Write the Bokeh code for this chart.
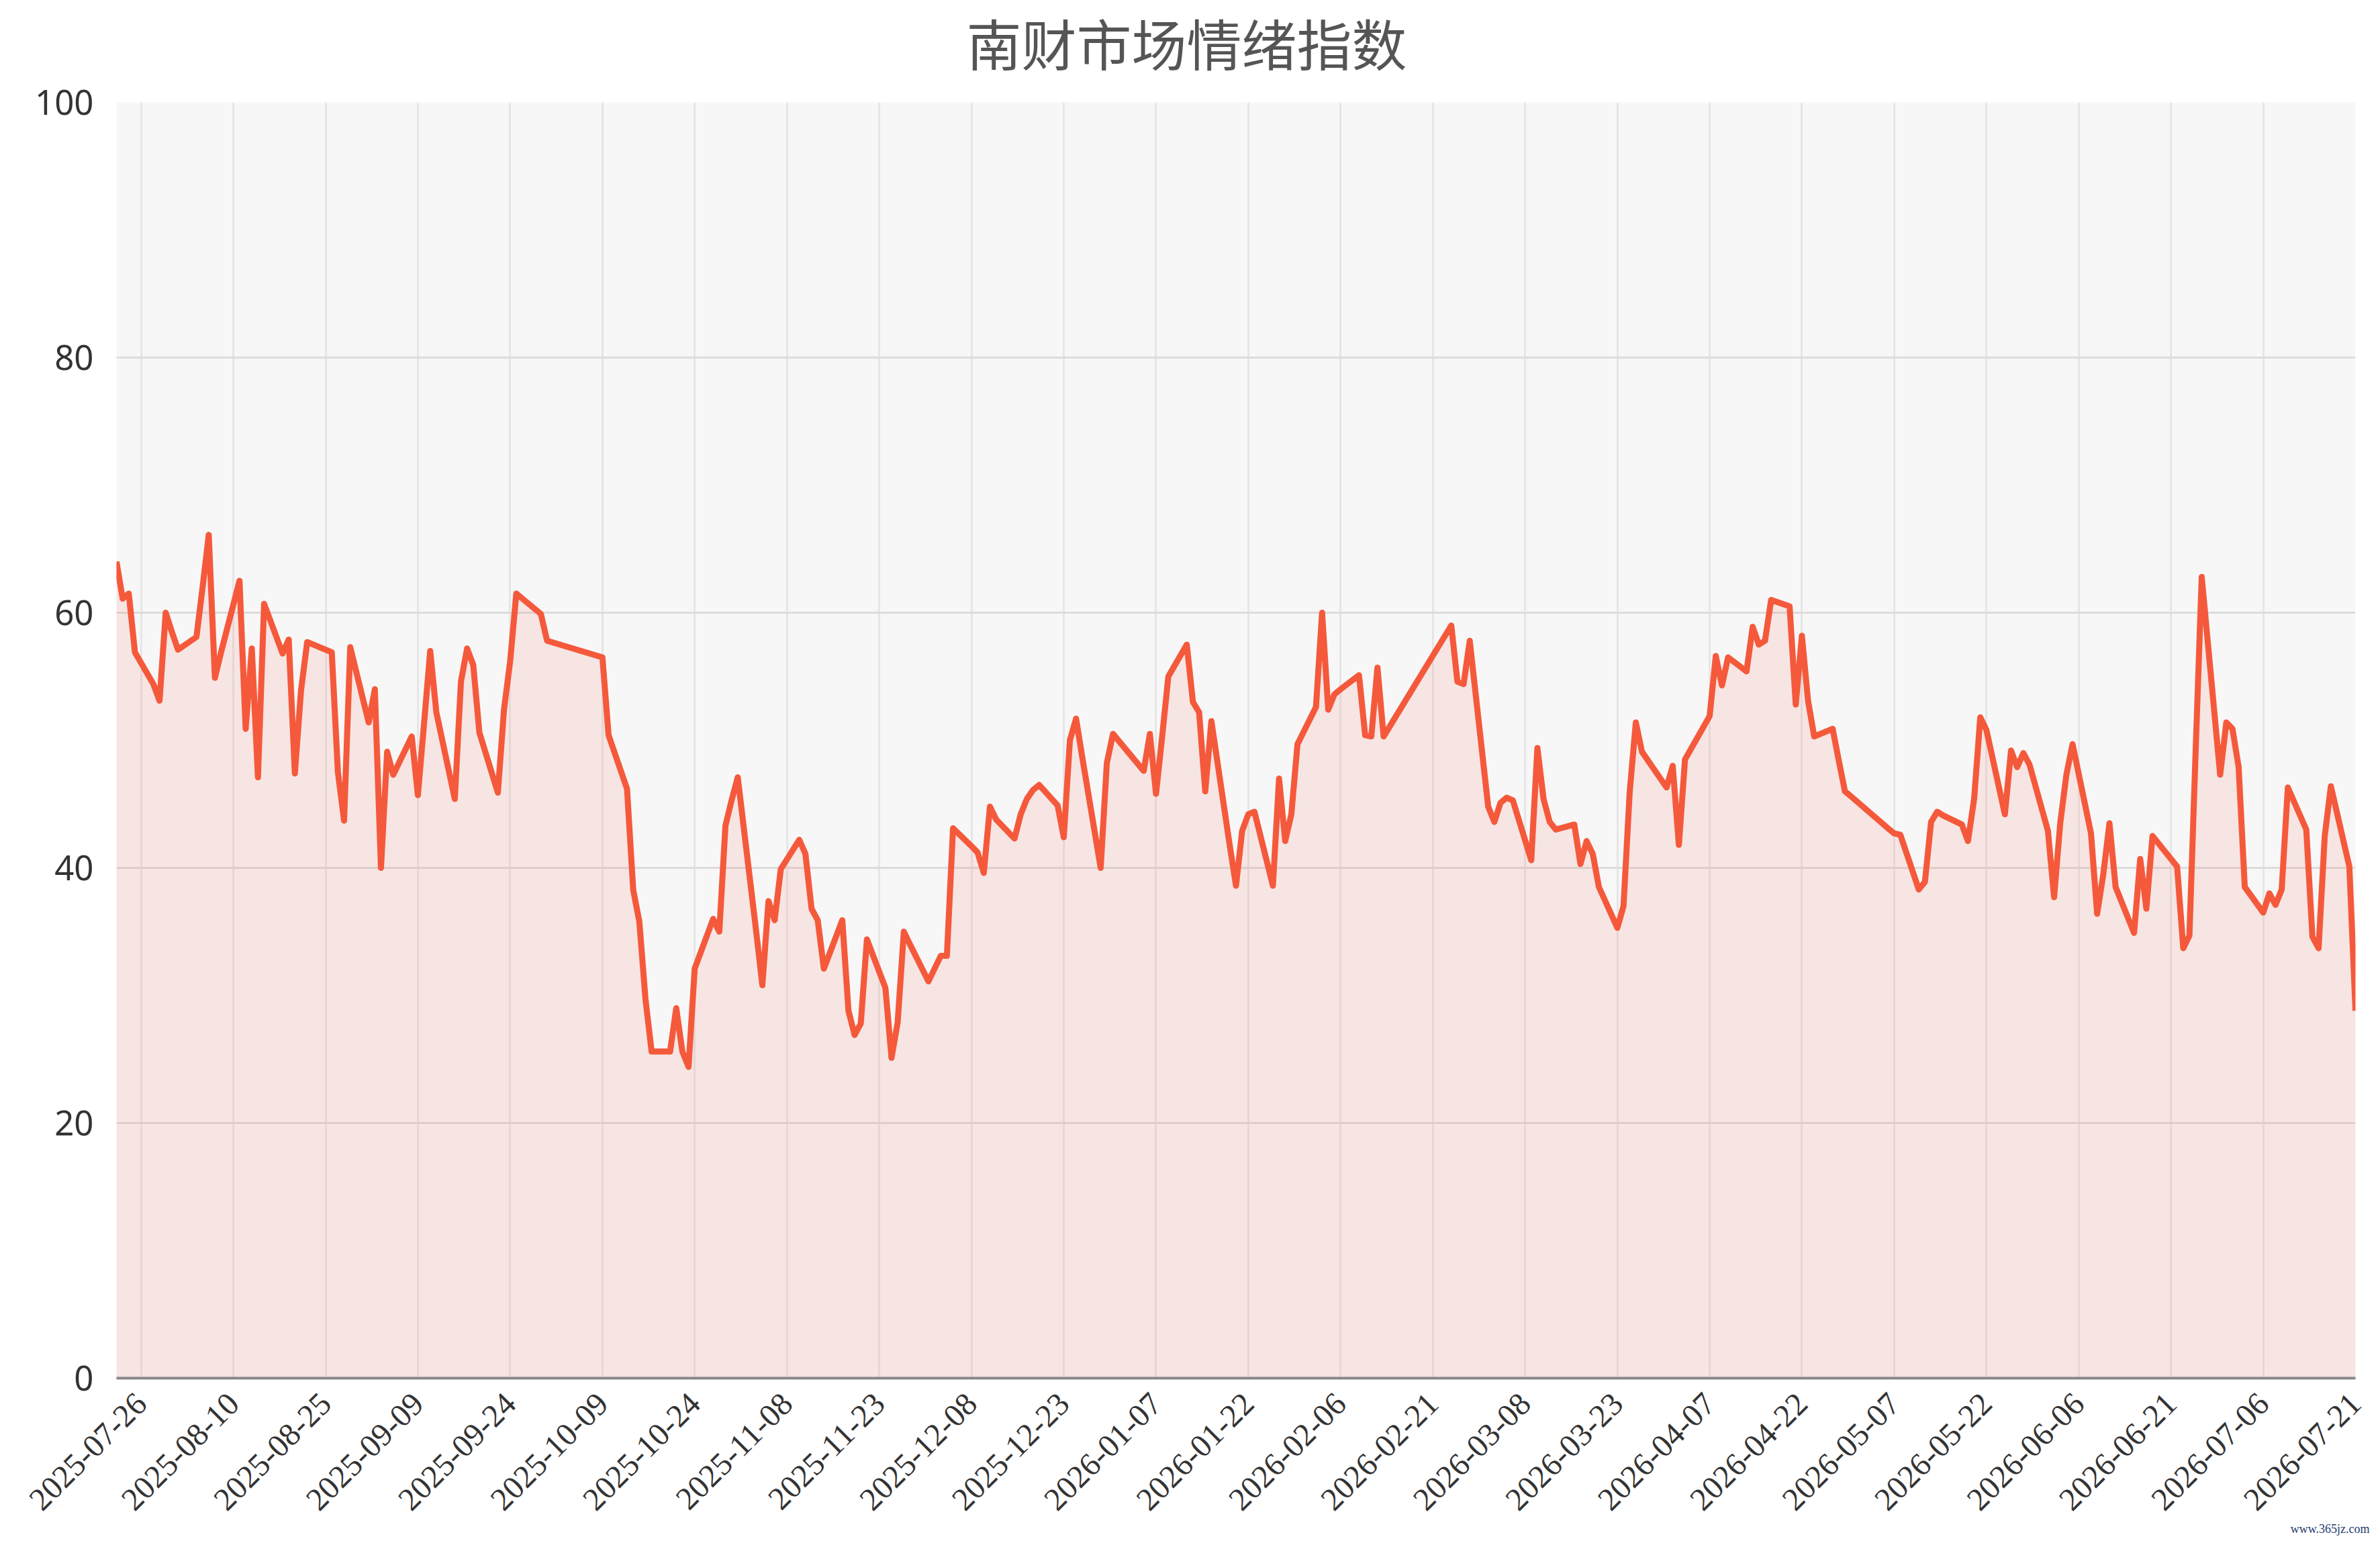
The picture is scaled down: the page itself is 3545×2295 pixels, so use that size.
import pandas as pd
from math import pi
from bokeh.plotting import figure
from bokeh.models import Range1d, FixedTicker, DatetimeTickFormatter, Title, ColumnDataSource
from bokeh.embed import file_html
from bokeh.resources import INLINE

chart_title = "南财市场情绪指数"
watermark = "www.365jz.com"

dates = [
    "2025-07-22", "2025-07-23", "2025-07-24", "2025-07-25", "2025-07-28", "2025-07-29", "2025-07-30", "2025-07-31",
    "2025-08-01", "2025-08-04", "2025-08-05", "2025-08-06", "2025-08-07", "2025-08-08", "2025-08-11", "2025-08-12",
    "2025-08-13", "2025-08-14", "2025-08-15", "2025-08-18", "2025-08-19", "2025-08-20", "2025-08-21", "2025-08-22",
    "2025-08-25", "2025-08-26", "2025-08-27", "2025-08-28", "2025-08-29",
    "2025-09-01", "2025-09-02", "2025-09-03", "2025-09-04", "2025-09-05", "2025-09-08", "2025-09-09", "2025-09-10",
    "2025-09-11", "2025-09-12", "2025-09-15", "2025-09-16", "2025-09-17", "2025-09-18", "2025-09-19", "2025-09-22",
    "2025-09-23", "2025-09-24", "2025-09-25", "2025-09-26", "2025-09-29", "2025-09-30",
    "2025-10-09", "2025-10-10", "2025-10-13", "2025-10-14", "2025-10-15", "2025-10-16", "2025-10-17", "2025-10-20",
    "2025-10-21", "2025-10-22", "2025-10-23", "2025-10-24", "2025-10-27", "2025-10-28", "2025-10-29", "2025-10-30",
    "2025-10-31",
    "2025-11-03", "2025-11-04", "2025-11-05", "2025-11-06", "2025-11-07", "2025-11-10", "2025-11-11", "2025-11-12",
    "2025-11-13", "2025-11-14", "2025-11-17", "2025-11-18", "2025-11-19", "2025-11-20", "2025-11-21", "2025-11-24",
    "2025-11-25", "2025-11-26", "2025-11-27", "2025-11-28",
    "2025-12-01", "2025-12-02", "2025-12-03", "2025-12-04", "2025-12-05", "2025-12-08", "2025-12-09", "2025-12-10",
    "2025-12-11", "2025-12-12", "2025-12-15", "2025-12-16", "2025-12-17", "2025-12-18", "2025-12-19", "2025-12-22",
    "2025-12-23", "2025-12-24", "2025-12-25", "2025-12-26", "2025-12-29", "2025-12-30", "2025-12-31",
    "2026-01-05", "2026-01-06", "2026-01-07", "2026-01-08", "2026-01-09", "2026-01-12", "2026-01-13", "2026-01-14",
    "2026-01-15", "2026-01-16", "2026-01-19", "2026-01-20", "2026-01-21", "2026-01-22", "2026-01-23", "2026-01-26",
    "2026-01-27", "2026-01-28", "2026-01-29", "2026-01-30",
    "2026-02-02", "2026-02-03", "2026-02-04", "2026-02-05", "2026-02-06", "2026-02-09", "2026-02-10", "2026-02-11",
    "2026-02-12", "2026-02-13", "2026-02-24", "2026-02-25", "2026-02-26", "2026-02-27",
    "2026-03-02", "2026-03-03", "2026-03-04", "2026-03-05", "2026-03-06", "2026-03-09", "2026-03-10", "2026-03-11",
    "2026-03-12", "2026-03-13", "2026-03-16", "2026-03-17", "2026-03-18", "2026-03-19", "2026-03-20", "2026-03-23",
    "2026-03-24", "2026-03-25", "2026-03-26", "2026-03-27", "2026-03-30", "2026-03-31",
    "2026-04-01", "2026-04-02", "2026-04-03", "2026-04-07", "2026-04-08", "2026-04-09", "2026-04-10", "2026-04-13",
    "2026-04-14", "2026-04-15", "2026-04-16", "2026-04-17", "2026-04-20", "2026-04-21", "2026-04-22", "2026-04-23",
    "2026-04-24", "2026-04-27", "2026-04-28", "2026-04-29", "2026-04-30",
    "2026-05-06", "2026-05-07", "2026-05-08", "2026-05-11", "2026-05-12", "2026-05-13", "2026-05-14", "2026-05-15",
    "2026-05-18", "2026-05-19", "2026-05-20", "2026-05-21", "2026-05-22", "2026-05-25", "2026-05-26", "2026-05-27",
    "2026-05-28", "2026-05-29",
    "2026-06-01", "2026-06-02", "2026-06-03", "2026-06-04", "2026-06-05", "2026-06-08", "2026-06-09", "2026-06-10",
    "2026-06-11", "2026-06-12", "2026-06-15", "2026-06-16", "2026-06-17", "2026-06-18", "2026-06-22", "2026-06-23",
    "2026-06-24", "2026-06-25", "2026-06-26", "2026-06-29", "2026-06-30",
    "2026-07-01", "2026-07-02", "2026-07-03", "2026-07-06", "2026-07-07", "2026-07-08", "2026-07-09", "2026-07-10",
    "2026-07-13", "2026-07-14", "2026-07-15", "2026-07-16", "2026-07-17", "2026-07-20", "2026-07-21",
]

sentiment = [
    64.0, 61.1, 61.5, 56.9, 54.4, 53.1, 60.0, 58.5,
    57.1, 58.1, 62.0, 66.1, 54.9, 56.9, 62.5, 50.9,
    57.2, 47.1, 60.7, 56.8, 57.9, 47.4, 53.9, 57.7,
    57.1, 56.9, 47.5, 43.7, 57.3,
    51.4, 54.0, 40.0, 49.1, 47.3, 50.3, 45.7, 51.3,
    57.0, 52.2, 45.4, 54.6, 57.2, 55.9, 50.6, 45.9,
    52.4, 56.2, 61.5, 61.1, 59.9, 57.8,
    56.5, 50.4, 46.2, 38.3, 35.8, 29.7, 25.6, 25.6,
    29.0, 25.6, 24.4, 32.1, 36.0, 35.0, 43.3, 45.3,
    47.1,
    35.0, 30.8, 37.4, 35.9, 39.9, 42.2, 41.1, 36.8,
    35.9, 32.1, 35.9, 28.8, 26.9, 27.8, 34.4, 30.6,
    25.1, 27.9, 35.0, 34.0,
    31.1, 32.1, 33.1, 33.1, 43.1, 41.7, 41.2, 39.6,
    44.8, 43.8, 42.3, 44.2, 45.4, 46.1, 46.5, 44.9,
    42.4, 50.0, 51.7, 48.7, 40.0, 48.2, 50.5,
    47.6, 50.5, 45.8, 50.3, 55.0, 57.5, 53.0, 52.2,
    46.0, 51.5, 41.7, 38.6, 42.9, 44.2, 44.4, 38.6,
    47.0, 42.1, 44.2, 49.7,
    52.6, 60.0, 52.4, 53.6, 54.0, 55.1, 50.4, 50.3,
    55.7, 50.3, 59.0, 54.6, 54.4, 57.8,
    44.8, 43.6, 45.1, 45.5, 45.3, 40.6, 49.4, 45.4,
    43.6, 43.0, 43.4, 40.3, 42.1, 41.1, 38.5, 35.3,
    37.0, 45.9, 51.4, 49.1, 47.0, 46.3,
    48.0, 41.8, 48.5, 51.9, 56.6, 54.3, 56.5, 55.4,
    58.9, 57.5, 57.8, 61.0, 60.5, 52.8, 58.2, 53.1,
    50.3, 50.9, 48.4, 46.0, 45.6,
    43.1, 42.7, 42.6, 38.3, 38.9, 43.6, 44.4, 44.1,
    43.4, 42.1, 45.4, 51.8, 50.8, 44.2, 49.2, 47.9,
    49.0, 48.1,
    42.9, 37.7, 43.5, 47.3, 49.7, 42.7, 36.4, 39.5,
    43.5, 38.5, 34.9, 40.7, 36.8, 42.5, 40.1, 33.7,
    34.7, 49.0, 62.8, 47.3, 51.4,
    50.9, 47.9, 38.5, 36.5, 38.0, 37.1, 38.3, 46.3,
    43.0, 34.6, 33.7, 42.5, 46.4, 40.1, 28.8,
]

x_start = "2025-07-22"
x_end = "2026-07-21"
tick_dates = [
    "2025-07-26", "2025-08-10", "2025-08-25", "2025-09-09", "2025-09-24", "2025-10-09", "2025-10-24",
    "2025-11-08", "2025-11-23", "2025-12-08", "2025-12-23", "2026-01-07", "2026-01-22", "2026-02-06",
    "2026-02-21", "2026-03-08", "2026-03-23", "2026-04-07", "2026-04-22", "2026-05-07", "2026-05-22",
    "2026-06-06", "2026-06-21", "2026-07-06", "2026-07-21",
]
y_ticks = [0, 20, 40, 60, 80, 100]


def ms(d):
    return pd.Timestamp(d).value // 10**6


src = ColumnDataSource(dict(x=pd.to_datetime(dates), y=sentiment))

p = figure(
    x_axis_type="datetime",
    frame_width=3335, frame_height=1900,
    min_border_left=173, min_border_right=21, min_border_top=143, min_border_bottom=236,
    x_range=Range1d(ms(x_start), ms(x_end)), y_range=Range1d(0, 100),
    output_backend="svg", toolbar_location=None,
)
p.background_fill_color = "#f7f7f7"
p.border_fill_color = "white"
p.outline_line_color = None

p.varea(x="x", y1=0, y2="y", source=src, fill_color="#f06a5a", fill_alpha=0.13)
p.line(x="x", y="y", source=src, line_color="#f5593b", line_width=9, line_join="round")

# title: a thin spacer next to the frame, then the title itself at the top edge
p.title.text = ""
p.add_layout(Title(text=" ", standoff=10, text_font="Noto Sans CJK SC", text_font_size="10px",
                   text_font_style="normal"), "above")
p.add_layout(Title(text=chart_title, align="left", offset=1266, vertical_align="top", standoff=4,
                   text_font="Noto Sans CJK SC", text_font_size="82px", text_font_style="normal",
                   text_color="#555555"), "above")

# watermark
p.add_layout(Title(text=watermark, align="right", offset=-21, standoff=0, vertical_align="top",
                   text_font="Liberation Serif", text_font_size="18px", text_font_style="normal",
                   text_color="#1f3a70"), "below")

# x axis
p.xaxis.ticker = FixedTicker(ticks=[ms(d) for d in tick_dates])
fmt = "%Y-%m-%d"
p.xaxis.formatter = DatetimeTickFormatter(days=fmt, months=fmt, years=fmt, hours=fmt, minutes=fmt,
                                          seconds=fmt, milliseconds=fmt, microseconds=fmt, hourmin=fmt, minsec=fmt)
p.xaxis.major_label_orientation = pi / 4
p.xaxis.major_label_text_font = "Liberation Serif"
p.xaxis.major_label_text_font_size = "48px"
p.xaxis.major_label_text_color = "#333333"
p.xaxis.major_label_standoff = 24
p.xaxis.axis_line_color = "#888888"
p.xaxis.axis_line_width = 4
p.xaxis.major_tick_line_color = None
p.xaxis.minor_tick_line_color = None

# y axis
p.yaxis.ticker = FixedTicker(ticks=y_ticks)
p.yaxis.major_label_text_font = "Noto Sans"
p.yaxis.major_label_text_font_size = "51px"
p.yaxis.major_label_text_color = "#333333"
p.yaxis.major_label_standoff = 28
p.yaxis.axis_line_color = None
p.yaxis.major_tick_line_color = None
p.yaxis.minor_tick_line_color = None

p.xgrid.grid_line_color = "#e6e6e6"
p.xgrid.grid_line_width = 3
p.ygrid.grid_line_color = "#dcdcdc"
p.ygrid.grid_line_width = 3

open("out.html", "w").write(file_html(p, INLINE))
